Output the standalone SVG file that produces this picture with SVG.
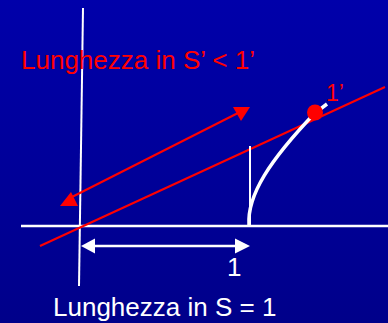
<svg xmlns="http://www.w3.org/2000/svg" width="388" height="323" viewBox="0 0 388 323">
  <defs>
    <linearGradient id="bg" x1="0" y1="0" x2="0" y2="1">
      <stop offset="0" stop-color="#0000AA"/>
      <stop offset="1" stop-color="#00008A"/>
    </linearGradient>
    <style>
      .txt { font-family: "Liberation Sans", Arial, sans-serif; font-size: 26px; }
      .w { fill: #FFFFFF; }
      .r { fill: #FF0000; }
      .wl { stroke: #FFFFFF; fill: none; }
      .rl { stroke: #FF0000; fill: none; stroke-width: 2; }
    </style>
  </defs>
  <rect x="0" y="0" width="388" height="323" fill="url(#bg)"/>

  <g id="connectors">
    <!-- axes -->
    <line class="wl" x1="83" y1="8" x2="79" y2="286" stroke-width="2"/>
    <line class="wl" x1="21" y1="226" x2="388" y2="226" stroke-width="2.5"/>
    <!-- x' axis -->
    <line class="rl" x1="40" y1="246" x2="385" y2="87"/>
    <!-- red double arrow -->
    <line class="rl" x1="68" y1="199" x2="238" y2="113"/>
    <polygon class="r" points="233,107 250,107 241,121"/>
    <polygon class="r" points="71,192 78,206 60,206"/>
    <!-- white double arrow -->
    <line class="wl" x1="92" y1="246" x2="238" y2="246" stroke-width="2.5"/>
    <polygon class="w" points="81,246 95,238.5 95,253.5"/>
    <polygon class="w" points="250,246 235,238.5 235,253.5"/>
    <!-- thin vertical marker -->
    <line class="wl" x1="250" y1="146" x2="250" y2="225" stroke-width="2"/>
    <!-- hyperbola -->
    <path class="wl" d="M249,225 C247,195 270,160 315,113 L327,104" stroke-width="3.5"/>
  </g>

  <g id="dot-1prime">
    <circle class="r" cx="315" cy="112.5" r="8"/>
  </g>

  <g id="label-S-prime">
    <text class="txt r" x="21" y="69">Lunghezza in S’ &lt; 1’</text>
  </g>
  <g id="label-1prime">
    <text class="txt r" x="326" y="101" style="font-size:23px">1’</text>
  </g>
  <g id="label-1">
    <text class="txt w" x="227" y="276">1</text>
  </g>
  <g id="label-S">
    <text class="txt w" x="53" y="316">Lunghezza in S = 1</text>
  </g>
</svg>
